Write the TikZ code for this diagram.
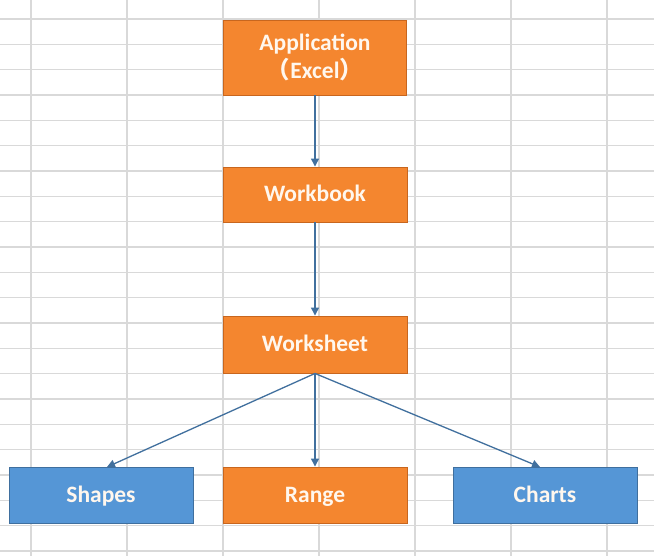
\documentclass[tikz,border=0pt]{standalone}
\usepackage{fontspec}
\setmainfont{Carlito}
\newfontfamily\cjk{Noto Sans CJK SC}
\usetikzlibrary{arrows.meta}
\definecolor{gridc}{HTML}{D9D9D9}
\definecolor{orfill}{HTML}{F4862F}
\definecolor{ordraw}{HTML}{C8661E}
\definecolor{blfill}{HTML}{5596D6}
\definecolor{bldraw}{HTML}{3F6F9E}
\definecolor{arrc}{HTML}{41709E}
\definecolor{txt}{HTML}{FFF7EE}
\tikzset{
  gridline/.style={draw=gridc, line width=1.4pt},
  boxbase/.style={line width=0.9pt, inner sep=0pt, text=txt,
    font=\fontsize{23.5}{28}\selectfont\bfseries, align=center},
  obox/.style={boxbase, draw=ordraw, fill=orfill},
  bbox/.style={boxbase, draw=bldraw, fill=blfill},
  oneline/.style={text height=15pt, text depth=0pt},
  conn/.style={draw=arrc, line width=1.3pt, -{Triangle[length=8pt,width=8pt]}}
}
\begin{document}
\begin{tikzpicture}[x=1pt,y=-1pt]
\useasboundingbox (0,0) rectangle (654,556);
\fill[white] (0,0) rectangle (654,556);
% grid
\foreach \i in {0,...,6} { \draw[gridline] ({31+96*\i},0) -- ({31+96*\i},556); }
\foreach \j in {0,...,21} { \draw[gridline] (0,{19+25.33*\j}) -- (654,{19+25.33*\j}); }
% nodes
\node[obox, minimum width=183pt, minimum height=75pt] (app) at (315,57.5) {Application\\{\cjk （}Excel{\cjk ）}};
\node[obox, oneline, minimum width=184pt, minimum height=55pt] (wb) at (315,194.5) {Workbook};
\node[obox, oneline, minimum width=184pt, minimum height=57pt] (ws) at (315,344.5) {Worksheet};
\node[bbox, oneline, minimum width=184pt, minimum height=56pt] (sh) at (101,495) {Shapes};
\node[obox, oneline, minimum width=184pt, minimum height=56pt] (rg) at (315,495) {Range};
\node[bbox, oneline, minimum width=184pt, minimum height=56pt] (ch) at (545,495) {Charts};
% connectors
\draw[conn] (app.south) -- (wb.north);
\draw[conn] (wb.south) -- (ws.north);
\draw[conn] (ws.south) -- (rg.north);
\coordinate (shin) at (107,467);
\coordinate (chin) at (540,467);
\draw[conn] (ws.south) -- (shin);
\draw[conn] (ws.south) -- (chin);
\end{tikzpicture}
\end{document}
